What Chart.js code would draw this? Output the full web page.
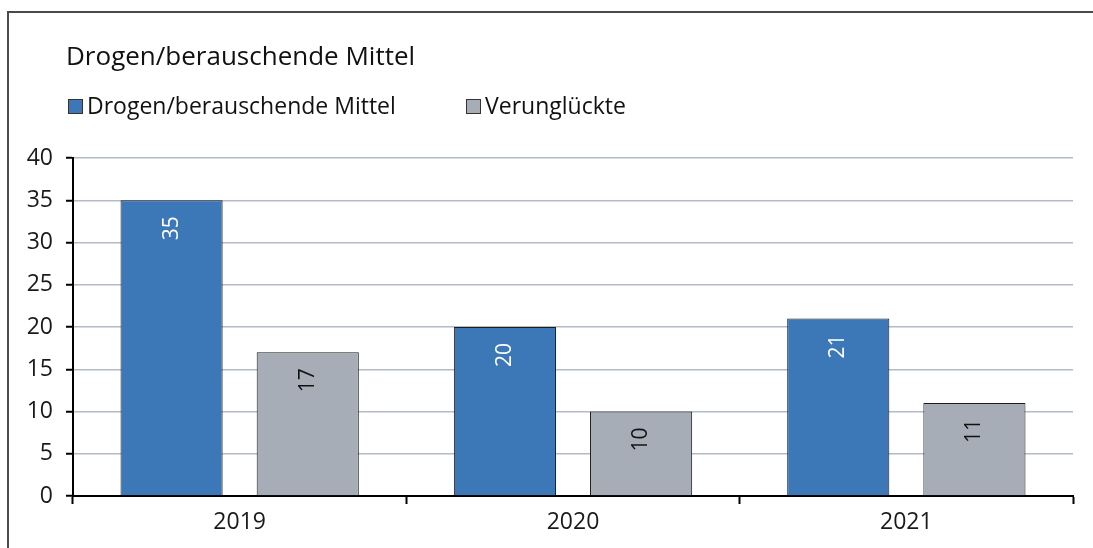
<!DOCTYPE html>
<html>
<head>
<meta charset="utf-8">
<script src="https://cdn.jsdelivr.net/npm/chart.js@4"></script>
<style>
  html, body { margin: 0; padding: 0; background: #fff; overflow: hidden; }
  body { width: 1093px; height: 548px; position: relative; font-family: "Open Sans", sans-serif; color: #111; }
  #frame { position: absolute; left: 7px; top: 11px; width: 1200px; height: 700px; border: 2px solid #4a4a4a; box-sizing: border-box; pointer-events: none; }
  #chart { position: absolute; left: 0; top: 0; }
  #title { position: absolute; left: 66px; top: 39px; font-size: 26px; line-height: 32px; white-space: nowrap; }
  .leg { position: absolute; top: 91px; font-size: 23px; line-height: 28px; white-space: nowrap; }
  .leg i { display: inline-block; width: 13px; height: 13px; border: 1px solid #333; margin-right: 4px; vertical-align: 0px; }
</style>
</head>
<body>
<div id="frame"></div>
<canvas id="chart" width="1093" height="548"></canvas>
<div id="title">Drogen/berauschende Mittel</div>
<div class="leg" style="left:68px"><i style="background:#3c78b8"></i>Drogen/berauschende Mittel</div>
<div class="leg" style="left:466px"><i style="background:#a6adb6"></i>Verunglückte</div>
<script>
const years = ['2019', '2020', '2021'];
const drogen = [35, 20, 21];
const verunglueckte = [17, 10, 11];
const seriesNames = ['Drogen/berauschende Mittel', 'Verunglückte'];

const ctx = document.getElementById('chart');

// rotated value labels near the top inside each bar
const barLabels = {
    id: 'barLabels',
    afterDatasetsDraw(chart) {
        const c = chart.ctx;
        chart.data.datasets.forEach((ds, i) => {
            const meta = chart.getDatasetMeta(i);
            meta.data.forEach((bar, j) => {
                c.save();
                c.translate(bar.x, bar.y + 16);
                c.rotate(-Math.PI / 2);
                c.font = '21px "Open Sans"';
                c.fillStyle = i === 0 ? '#ffffff' : '#111111';
                c.textAlign = 'right';
                c.textBaseline = 'middle';
                c.fillText(String(ds.data[j]), 0, 0);
                c.restore();
            });
        });
    }
};

const data = {
    labels: years,
    datasets: [
        {
            label: seriesNames[0],
            data: drogen,
            backgroundColor: '#3c78b8',
            borderColor: '#1c1c1c',
            borderWidth: 1
        },
        {
            label: seriesNames[1],
            data: verunglueckte,
            backgroundColor: '#a6adb6',
            borderColor: '#1c1c1c',
            borderWidth: 1
        }
    ]
};

const config = {
    type: 'bar',
    data: data,
    options: {
        responsive: false,
        animation: false,
        categoryPercentage: 0.817,
        barPercentage: 0.75,
        layout: {
            padding: { left: 0, right: 20, top: 158, bottom: 0 }
        },
        plugins: {
            legend: { display: false },
            title: { display: false },
            tooltip: { enabled: false }
        },
        scales: {
            x: {
                afterFit: (s) => { s.height = 52; },
                grid: {
                    display: true,
                    drawOnChartArea: false,
                    drawTicks: true,
                    tickLength: 8,
                    tickColor: '#000',
                    tickWidth: 2,
                    offset: true
                },
                border: { color: '#000', width: 2 },
                ticks: {
                    color: '#1a1a1a',
                    font: { family: 'Open Sans', size: 23 },
                    padding: 5
                }
            },
            y: {
                min: 0,
                max: 40,
                afterFit: (s) => { s.width = 73; },
                grid: {
                    color: '#b4bbc5',
                    lineWidth: 1.5,
                    tickLength: 7,
                    tickColor: '#000',
                    tickWidth: 2
                },
                border: { color: '#000', width: 2 },
                ticks: {
                    stepSize: 5,
                    color: '#1a1a1a',
                    font: { family: 'Open Sans', size: 23 },
                    padding: 13
                }
            }
        }
    },
    plugins: [barLabels]
};

const barChart = new Chart(ctx, config);
</script>
</body>
</html>
